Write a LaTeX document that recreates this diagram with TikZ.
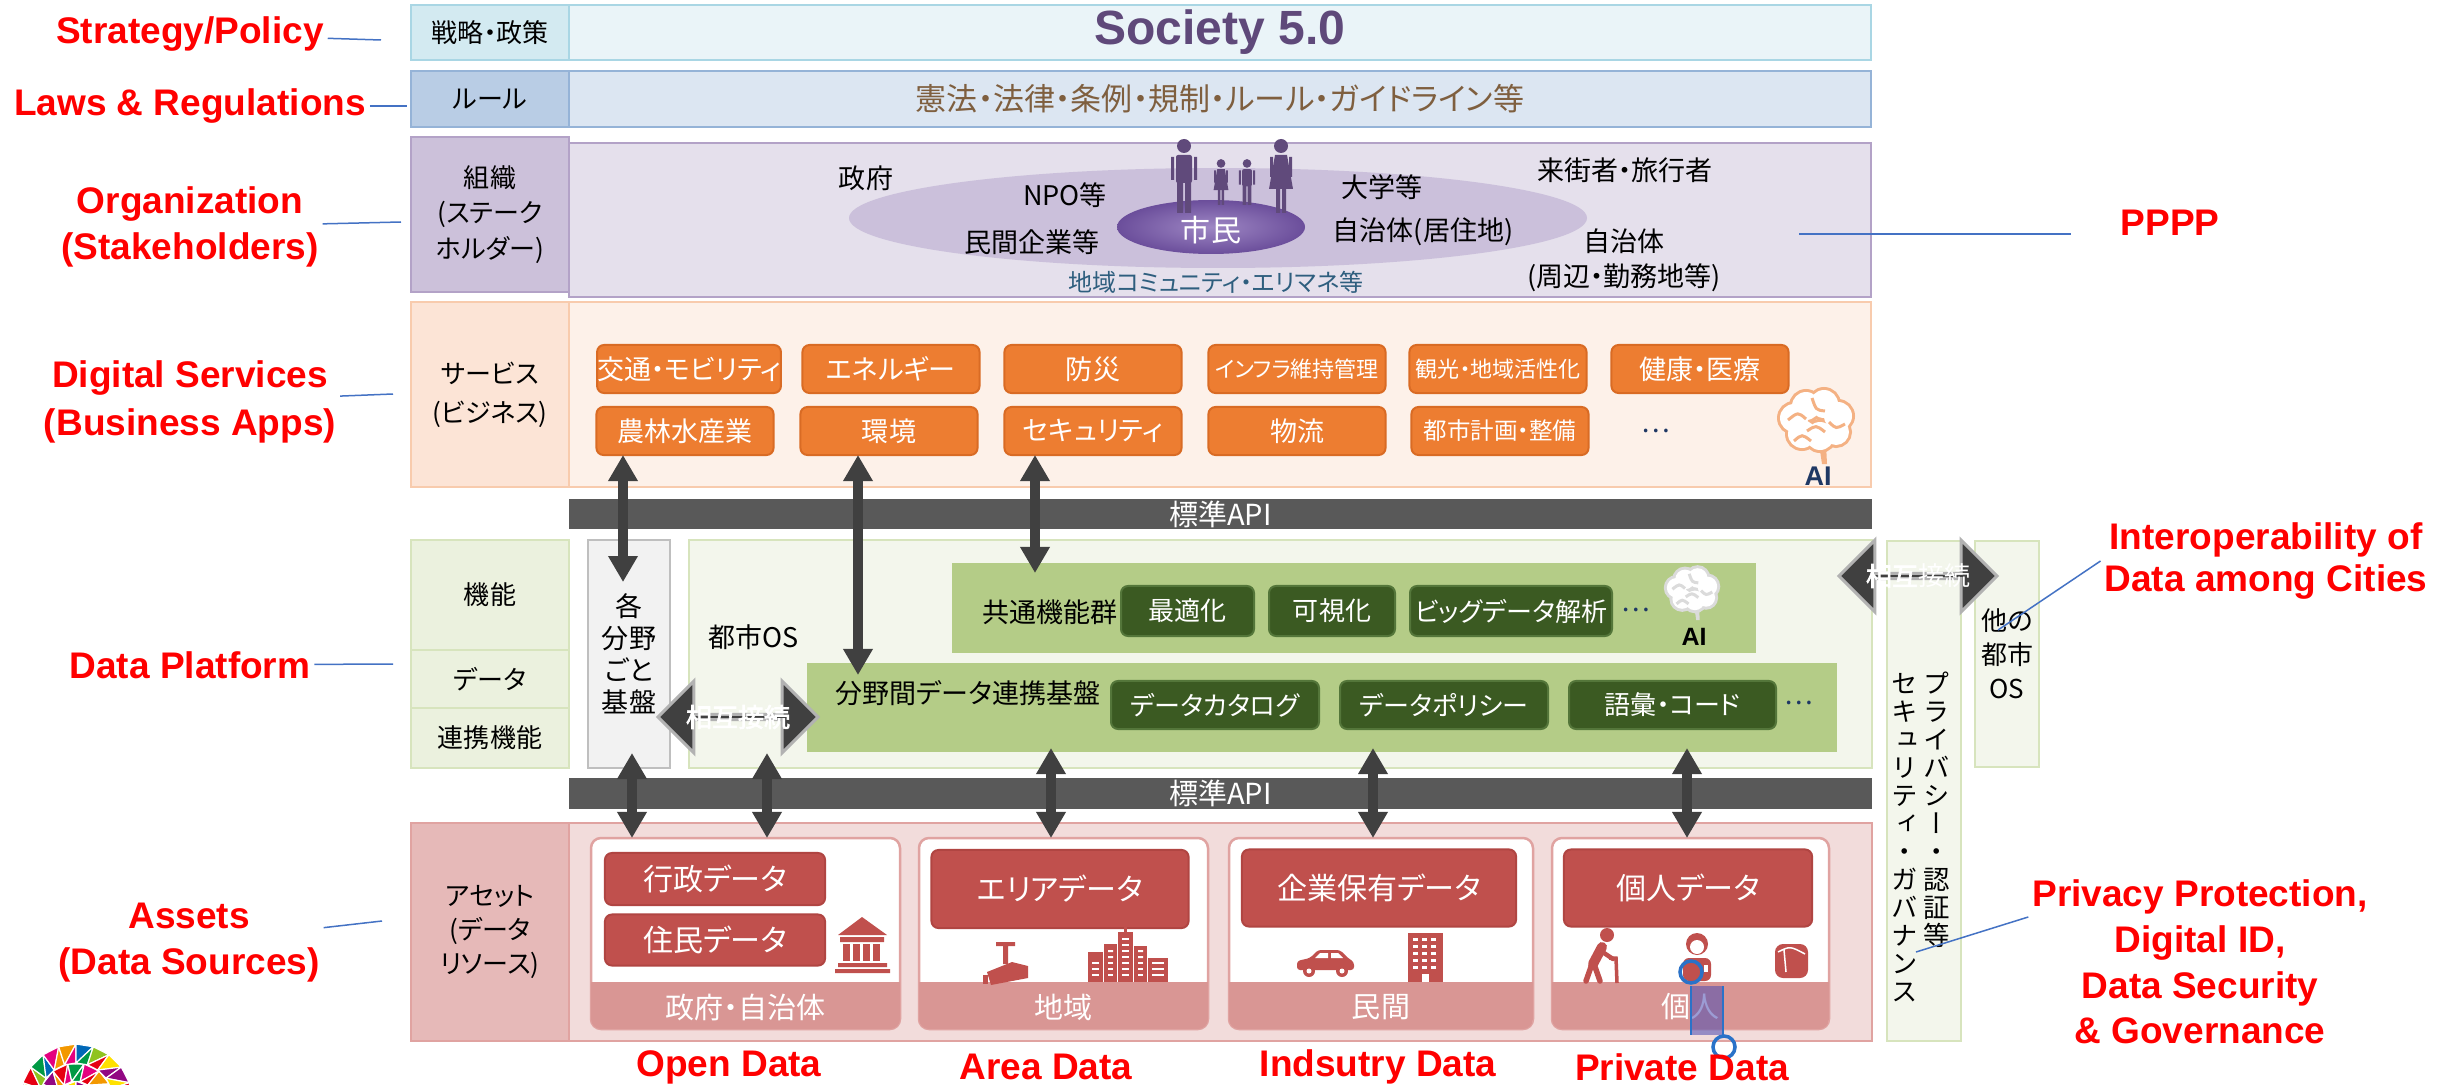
\documentclass[tikz,border=0pt]{standalone}
\usepackage{fontspec}
\setmainfont{Liberation Sans}
\newfontfamily\jp[RawFeature={+palt}]{Noto Sans CJK JP}
\newfontfamily\jpheavy[RawFeature={+palt},FakeBold=2.5]{Noto Sans CJK JP}
\newfontfamily\jpv[RawFeature={+vert}]{Noto Sans CJK JP}
\newfontfamily\logoserif{Liberation Serif}
\usetikzlibrary{arrows.meta,positioning,shapes.arrows}
\definecolor{cyanL}{HTML}{D3EAF1}\definecolor{cyanM}{HTML}{EAF4F8}\definecolor{cyanE}{HTML}{A9D6E4}
\definecolor{blueL}{HTML}{B9CDE5}\definecolor{blueM}{HTML}{DCE6F2}\definecolor{blueE}{HTML}{95B3D7}
\definecolor{purL}{HTML}{CCC1DA}\definecolor{purM}{HTML}{E5E0EC}\definecolor{purE}{HTML}{B3A2C7}
\definecolor{ellfill}{HTML}{CBC0DB}\definecolor{citizenL}{HTML}{9E87C4}\definecolor{citizenD}{HTML}{6B4E9B}
\definecolor{citizen}{HTML}{604A7B}\definecolor{societyv}{HTML}{5F497A}\definecolor{lawbrown}{HTML}{7F5F3F}
\definecolor{commteal}{HTML}{2E5E7E}
\definecolor{pchL}{HTML}{FCE4D6}\definecolor{pchM}{HTML}{FDF1E9}\definecolor{pchE}{HTML}{F8CBAD}
\definecolor{svcorange}{HTML}{ED7D31}\definecolor{svcedge}{HTML}{D96B24}
\definecolor{dotnavy}{HTML}{1F3864}\definecolor{brainorange}{HTML}{F4B183}
\definecolor{apigray}{HTML}{595959}\definecolor{arrowgray}{HTML}{404040}
\definecolor{grnL}{HTML}{EBF1DE}\definecolor{grnM}{HTML}{F3F6EC}\definecolor{grnE}{HTML}{D7E4BD}\definecolor{grnK}{HTML}{B4CC87}
\definecolor{fngreen}{HTML}{3B5A22}\definecolor{fnedge}{HTML}{54763A}
\definecolor{grayL}{HTML}{F2F2F2}\definecolor{grayE}{HTML}{BFBFBF}
\definecolor{pinkL}{HTML}{E6B9B8}\definecolor{pinkM}{HTML}{F2DCDB}\definecolor{pinkE}{HTML}{E0A3A1}
\definecolor{bandpink}{HTML}{D99694}\definecolor{datared}{HTML}{C0504D}\definecolor{dataedge}{HTML}{B04542}
\definecolor{leadblue}{HTML}{4472C4}\definecolor{selblue}{HTML}{2A72C8}\definecolor{logogray}{HTML}{404040}
\definecolor{dome0}{HTML}{E60012}\definecolor{dome1}{HTML}{F39800}\definecolor{dome2}{HTML}{FFE100}\definecolor{dome3}{HTML}{009944}
\definecolor{dome4}{HTML}{0068B7}\definecolor{dome5}{HTML}{920783}\definecolor{dome6}{HTML}{E4007F}\definecolor{dome7}{HTML}{8FC31F}

\newdimen\pxd
\newcommand\pxfontl[2]{\pxd=0.28453pt\pxd=#2\pxd\fontsize{\pxd}{#1\pxd}\selectfont}
\newcommand\pxfont[1]{\pxfontl{1.2}{#1}}
\newcommand\cellbox[7][]{\node[box,#1,minimum width={(#5-#3)*0.01cm},minimum height={(#6-#4)*0.01cm}] (#2) at ({(#3+#5)/2},{(#4+#6)/2}) {#7};}

\tikzset{
 pics/brain/.style={code={
  \foreach \bx/\by/\br in {-22/-6/14,-10/-18/14,8/-20/14,22/-8/14,20/8/13,4/12/14,-14/10/14} \draw[#1,line width=0.06cm] (\bx,\by) circle[radius=\br];
  \fill[#1] (3,20) -- (10,20) -- (11,40) -- (6,40) -- cycle;
  \foreach \bx/\by/\br in {-22/-6/14,-10/-18/14,8/-20/14,22/-8/14,20/8/13,4/12/14,-14/10/14} \fill[white] (\bx,\by) circle[radius=\br];
  \draw[#1,line width=0.03cm] (-28,-4) .. controls (-18,-12) .. (-10,-5) (-4,-26) .. controls (0,-14) .. (9,-13) (13,-2) .. controls (20,5) .. (29,0) (-9,7) .. controls (0,1) .. (9,8) (-22,17) .. controls (-14,10) .. (-5,17);}},
 pics/man/.style={code={\fill[citizen] (0,-67) circle[radius=7]; \fill[citizen,rounded corners=0.02cm] (-8,-58) rectangle (8,-30); \fill[citizen] (-13,-56) rectangle (-10,-33) (10,-56) rectangle (13,-33) (-7,-31) rectangle (-1,0) (1,-31) rectangle (7,0);}},
 pics/woman/.style={code={\fill[citizen] (0,-67) circle[radius=7]; \fill[citizen] (-6,-58) -- (6,-58) -- (12,-24) -- (-12,-24) -- cycle; \fill[citizen] (-11,-56) rectangle (-8,-36) (8,-56) rectangle (11,-36) (-5,-25) rectangle (-1,0) (1,-25) rectangle (5,0);}}}

\begin{document}
\begin{tikzpicture}[x=0.01cm,y=-0.01cm,font=\jp\pxfont{26},every node/.style={outer sep=0},
 box/.style={draw,line width=0.025cm,inner sep=0,align=center},
 svcbox/.style={rounded corners=0.07cm,fill=svcorange,draw=svcedge,line width=0.02cm,text=white,minimum width=1.77cm,minimum height=0.48cm,inner sep=0,font=\jp\pxfont{27}},
 fnbox/.style={rounded corners=0.07cm,fill=fngreen,draw=fnedge,line width=0.02cm,text=white,minimum height=0.5cm,inner sep=0,font=\jp\pxfont{26}},
 databox/.style={rounded corners=0.07cm,fill=datared,draw=dataedge,line width=0.02cm,text=white,inner sep=0,font=\jp\pxfont{30}},
 panel/.style={rounded corners=0.1cm,fill=white,draw=pinkE},
 tag/.style={text=red,font=\bfseries\pxfont{37},align=center,inner sep=0.04cm},
 lead/.style={draw=leadblue,line width=0.015cm},
 updown/.style={{Triangle[width=0.28cm,length=0.26cm]}-{Triangle[width=0.28cm,length=0.26cm]},line width=0.1cm,draw=arrowgray},
 link/.style={double arrow,fill=arrowgray,draw=gray!60,line width=0.03cm,minimum width=0.72cm,double arrow head extend=0.19cm,inner sep=0},
 linktext/.style={text=white,font=\jpheavy\pxfont{26}},
 dots/.style={text=dotnavy,font=\jp\pxfont{27}}]
 \useasboundingbox (0,0) rectangle (2445,1085);
 \fill[white] (0,0) rectangle (2445,1085);

 \cellbox[fill=cyanL,draw=cyanE]{stratL}{411}{5}{569}{60}{戦略・政策}
 \cellbox[fill=cyanM,draw=cyanE,text=societyv,font=\bfseries\pxfont{48}]{strat}{569}{5}{1871}{60}{Society 5.0}
 \cellbox[fill=blueL,draw=blueE]{ruleL}{411}{71}{569}{127}{ルール}
 \cellbox[fill=blueM,draw=blueE,text=lawbrown,font=\jp\pxfont{31}]{rule}{569}{71}{1871}{127}{憲法・法律・条例・規制・ルール・ガイドライン等}
 \cellbox[fill=purL,draw=purE,font=\jp\pxfontl{1.35}{26}]{orgL}{411}{137}{569}{292}{組織\\(ステーク\\ホルダー)}
 \cellbox[fill=purM,draw=purE]{org}{569}{143}{1871}{297}{}

 \fill[ellfill] (1218,218) ellipse[x radius=369,y radius=50];
 \shade[inner color=citizenL,outer color=citizenD] (1211,227) ellipse[x radius=94,y radius=27];
 \pic at (1184,213) {man}; \pic at (1281,213) {woman};
 \pic[scale=0.62] at (1221,205) {woman}; \pic[scale=0.62] at (1247,205) {man};
 \node[text=white,font=\jp\pxfont{30}] (shimin) at (1211,230) {市民};
 \begin{scope}[font=\jp\pxfont{27}]
  \node (gov) at (866,178) {政府};
  \node (npo) at (1065,195) {NPO等};
  \node (corp) at (1032,242) {民間企業等};
  \node (univ) at (1382,187) {大学等};
  \node (home) at (1423,232) {自治体(居住地)};
  \node (visit) at (1625,170) {来街者・旅行者};
  \node[align=center,font=\jp\pxfontl{1.3}{27}] (near) at (1624,260) {自治体\\(周辺・勤務地等)};
 \end{scope}
 \node[text=commteal,font=\jp\pxfont{24}] (comm) at (1216,282) {地域コミュニティ・エリマネ等};

 \cellbox[fill=pchL,draw=pchE,font=\jp\pxfontl{1.5}{26}]{svcL}{411}{302}{569}{487}{サービス\\(ビジネス)}
 \cellbox[fill=pchM,draw=pchE]{svc}{569}{302}{1871}{487}{}
 \foreach \na/\xa/\ya/\tx in {traffic/689/369/交通・モビリティ, energy/891/369/エネルギー, disaster/1093/369/防災, infra/1297/369/{\pxfont{22}インフラ維持管理}, tourism/1498/369/{\pxfont{22}観光・地域活性化}, health/1700/369/健康・医療, agri/685/431/農林水産業, env/889/431/環境, security/1093/431/セキュリティ, logistics/1297/431/物流, urban/1500/431/{\pxfont{23.5}都市計画・整備}}
  \node[svcbox] (\na) at (\xa,\ya) {\tx};
 \node[dots] (svcmore) at (1656,431) {…};
 \pic at (1816,424) {brain=brainorange};
 \node[text=dotnavy,font=\bfseries\pxfont{27}] (aiS) at (1818,476) {AI};

 \cellbox[fill=apigray,draw=none,text=white,font=\jp\pxfont{29}]{apiU}{569}{499}{1872}{529}{標準API}
 \cellbox[fill=grnL,draw=grnE]{kino}{411}{540}{569}{650}{機能}
 \cellbox[fill=grnL,draw=grnE]{datac}{411}{650}{569}{708}{データ}
 \cellbox[fill=grnL,draw=grnE]{renkei}{411}{708}{569}{768}{連携機能}
 \cellbox[fill=grayL,draw=grayE,font=\jp\pxfontl{1.19}{27}]{kaku}{588}{540}{670}{768}{各\\分野\\ごと\\基盤}
 \cellbox[fill=grnM,draw=grnE]{cityos}{689}{540}{1872}{768}{}
 \node[font=\jp\pxfont{27}] (cityosT) at (754,637) {都市OS};
 \cellbox[fill=grnK,draw=none]{common}{952}{563}{1756}{653}{}
 \node[anchor=west,font=\jp\pxfont{27}] (commonT) at (971,612) {共通機能群};
 \foreach \na/\xa/\xb/\tx in {opt/1121/1254/最適化, vis/1269/1395/可視化, bigdata/1410/1612/ビッグデータ解析}
  \node[fnbox,minimum width={(\xb-\xa)*0.01cm}] (\na) at ({(\xa+\xb)/2},611) {\tx};
 \node[dots] (fnmore) at (1636,610) {…};
 \pic[scale=0.7] at (1692,592) {brain=white!72!gray};
 \node[font=\bfseries\pxfont{25}] (aiP) at (1694,637) {AI};
 \cellbox[fill=grnK,draw=none]{crossdata}{807}{663}{1837}{752}{}
 \node[anchor=west,font=\jp\pxfont{27}] (crossT) at (824,693) {分野間データ連携基盤};
 \foreach \na/\xa/\xb/\tx in {catalog/1111/1319/データカタログ, policy/1340/1548/データポリシー, vocab/1569/1776/語彙・コード}
  \node[fnbox,minimum width={(\xb-\xa)*0.01cm},minimum height=0.48cm] (\na) at ({(\xa+\xb)/2},705) {\tx};
 \node[dots] (datamore) at (1799,703) {…};

 \cellbox[fill=grnM,draw=grnE]{privacy}{1887}{541}{1961}{1041}{}
 \node[anchor=north,align=center,font=\jpv\pxfontl{1.06}{26.4}] (privR) at (1937,660) {プ\\ラ\\イ\\バ\\シ\\ー\\・\\認\\証\\等};
 \node[anchor=north,align=center,font=\jpv\pxfontl{1.06}{26.4}] (privL) at (1905,662) {セ\\キ\\ュ\\リ\\テ\\ィ\\・\\ガ\\バ\\ナ\\ン\\ス};
 \cellbox[fill=grnM,draw=grnE,font=\jp\pxfontl{1.3}{26}]{otheros}{1975}{541}{2039}{767}{他の\\都市\\OS}
 \node[link,minimum height=1.58cm] (linkR) at (1918,576) {};
 \node[linktext] (linkRt) at (linkR) {相互{\jp 接続}};
 \node[link,minimum height=1.6cm] (linkL) at (738,717) {};
 \node[linktext] (linkLt) at (linkL) {相互接続};

 \cellbox[fill=apigray,draw=none,text=white,font=\jp\pxfont{29}]{apiD}{569}{778}{1872}{809}{標準API}
 \cellbox[fill=pinkL,draw=pinkE,font=\jp\pxfontl{1.3}{26}]{assetL}{411}{823}{569}{1041}{アセット\\(データ\\リソース)}
 \cellbox[fill=pinkM,draw=pinkE]{asset}{569}{823}{1872}{1041}{}
 \foreach \na/\xa/\xb/\tx in {pgov/591/900/政府・自治体, parea/919/1208/地域, pcorp/1229/1533/民間, pself/1552/1829/個人}{
  \cellbox[panel]{\na}{\xa}{838}{\xb}{1029}{}
  \begin{scope}\clip[rounded corners=0.1cm] (\xa,838) rectangle (\xb,1029); \fill[bandpink] (\xa,982) rectangle (\xb,1029);\end{scope}
  \node[text=white,font=\jp\pxfont{29}] (\na band) at ({(\xa+\xb)/2},1007) {\tx};}
 \node[databox,minimum width=2.2cm,minimum height=0.52cm] (gyosei) at (715,879) {行政データ};
 \node[databox,minimum width=2.2cm,minimum height=0.51cm] (jumin) at (715,940) {住民データ};
 \node[databox,minimum width=2.57cm,minimum height=0.78cm] (areadata) at (1060,889) {エリアデータ};
 \node[databox,minimum width=2.74cm,minimum height=0.77cm] (corpdata) at (1379,888) {企業保有データ};
 \node[databox,minimum width=2.48cm,minimum height=0.77cm] (selfdata) at (1688,888) {個人データ};

 \fill[datared] (838,935) -- (862,917) -- (887,935) -- cycle;
 \fill[datared] (840,937) rectangle (884,942) (838,963) rectangle (887,967) (835,969) rectangle (890,973);
 \foreach \cx in {843,853,863,873} \fill[datared] (\cx,944) rectangle (\cx+7,961);
 \fill[datared] (996,942) rectangle (1015,946) (1003,946) rectangle (1008,964);
 \fill[datared] (987,972) -- (1012,962) -- (1028,966) -- (1028,978) -- (991,985) -- cycle;
 \fill[datared] (983,975) rectangle (988,984);
 \foreach \xa/\xb/\ya in {1088/1103/952,1104/1117/944,1118/1133/932,1134/1147/946,1148/1168/958} \fill[datared] (\xa,\ya) rectangle (\xb,982);
 \fill[datared] (1124,925) rectangle (1127,932);
 \foreach \ya in {962,968,974} \foreach \xa/\xb in {1090/1101,1106/1115,1120/1131,1136/1145,1150/1166} \fill[white] (\xa+2,\ya) rectangle (\xb-2,\ya+2);
 \foreach \ya in {938,944,950,956} \fill[white] (1122,\ya) rectangle (1129,\ya+2);
 \foreach \ya in {950,956} \fill[white] (1108,\ya) rectangle (1113,\ya+2) (1138,\ya) rectangle (1143,\ya+2);
 \fill[datared,rounded corners=0.03cm] (1297,970) -- (1297,961) -- (1310,958) -- (1318,950) -- (1340,950) -- (1348,958) -- (1354,962) -- (1354,970) -- cycle;
 \fill[white] (1315,958) -- (1320,953) -- (1328,953) -- (1328,958) -- cycle (1331,958) -- (1331,953) -- (1338,953) -- (1343,958) -- cycle;
 \foreach \wx in {1309,1342} {\fill[datared] (\wx,971) circle[radius=6]; \fill[white] (\wx,971) circle[radius=2.5];}
 \fill[datared] (1408,933) rectangle (1443,982);
 \foreach \i in {0,1,2} \foreach \j in {0,...,4} \fill[white] (1413+\i*9,938+\j*7) rectangle (1418+\i*9,941+\j*7);
 \fill[white] (1422,974) rectangle (1429,982);
 \fill[datared] (1607,935) circle[radius=7];
 \draw[datared,line width=0.1cm,line cap=round] (1602,947) -- (1593,964);
 \draw[datared,line width=0.055cm,line cap=round] (1592,964) -- (1586,981) (1594,964) -- (1600,981);
 \draw[datared,line width=0.045cm,line cap=round] (1601,951) -- (1613,959);
 \draw[datared,line width=0.035cm] (1609,958) -- (1616,958) -- (1617,983);
 \fill[datared] (1697,944) circle[radius=11];
 \fill[white] (1697,947) circle[radius=7];
 \fill[datared,rounded corners=0.06cm] (1683,981) rectangle (1711,958);
 \fill[white] (1704,965) rectangle (1708,972);
 \fill[datared,rounded corners=0.08cm] (1775,944) rectangle (1808,978);
 \draw[white,line width=0.015cm] (1778,952) .. controls (1790,946) .. (1805,954) (1784,950) -- (1786,972);

 \coordinate (a1) at (623,0); \coordinate (a2) at (858,0); \coordinate (a3) at (1035,0);
 \coordinate (b1) at (632,0); \coordinate (b2) at (767,0); \coordinate (b3) at (1051,0); \coordinate (b4) at (1373,0); \coordinate (b5) at (1687,0);
 \draw[updown,shorten >=-0.42cm] (a1 |- agri.south) -- (a1 |- kaku.north);
 \draw[updown,shorten >=-0.12cm] (a2 |- env.south) -- (a2 |- crossdata.north);
 \draw[updown,shorten >=-0.1cm] (a3 |- security.south) -- (a3 |- common.north);
 \draw[updown,shorten <=-0.15cm] (b1 |- kaku.south) -- (b1 |- pgov.north);
 \draw[updown,shorten <=-0.15cm] (b2 |- cityos.south) -- (b2 |- pgov.north);
 \draw[updown,shorten <=-0.04cm] (b3 |- crossdata.south) -- (b3 |- parea.north);
 \draw[updown,shorten <=-0.04cm] (b4 |- crossdata.south) -- (b4 |- pcorp.north);
 \draw[updown,shorten <=-0.04cm] (b5 |- crossdata.south) -- (b5 |- pself.north);

 \fill[blue!40!gray,opacity=0.55] (1691,986) rectangle (1723,1035);
 \draw[selblue,line width=0.012cm] (1691,986) -- (1691,1035) (1723,986) -- (1723,1035);
 \draw[selblue,line width=0.035cm] (1691,972) circle[radius=11] (1724,1047) circle[radius=11];

 \node[tag] (lblStrat) at (190,34) {Strategy/Policy};
 \node[tag] (lblLaw) at (190,106) {Laws \& Regulations};
 \node[tag,font=\bfseries\pxfontl{1.24}{37}] (lblOrg) at (190,227) {Organization\\(Stakeholders)};
 \node[tag] (lblPPPP) at (2170,223) {PPPP};
 \node[tag,font=\bfseries\pxfontl{1.3}{37}] (lblSvc) at (190,402) {Digital Services\\(Business Apps)};
 \node[tag] (lblDP) at (190,665) {Data Platform};
 \node[tag,font=\bfseries\pxfontl{1.16}{37}] (lblIO) at (2266,561) {Interoperability of\\Data among Cities};
 \node[tag,font=\bfseries\pxfontl{1.24}{37}] (lblAsset) at (189,943) {Assets\\(Data Sources)};
 \node[tag,font=\bfseries\pxfontl{1.23}{37}] (lblPriv) at (2200,962) {Privacy Protection,\\Digital ID,\\Data Security\\\& Governance};
 \foreach \na/\xa/\tx in {lblOpen/729/Open Data, lblArea/1046/Area Data, lblInd/1378/Indsutry Data, lblPrivate/1682/Private Data}
  \node[tag] (\na) at (\xa,1067) {\tx};

 \coordinate (eStrat) at (381,40); \coordinate (eLaw) at (407,106); \coordinate (eOrg) at (401,222);
 \coordinate (ePPPP) at (1799,234); \coordinate (eSvc) at (393,394); \coordinate (eDP) at (393,664);
 \coordinate (eIO) at (1998,630); \coordinate (eAsset) at (382,921); \coordinate (ePriv) at (1916,952);
 \draw[lead] (lblStrat) -- (eStrat); \draw[lead] (lblLaw) -- (eLaw); \draw[lead] (lblOrg) -- (eOrg);
 \draw[lead,shorten >=0.46cm] (ePPPP) -- (ePPPP -| lblPPPP.west);
 \draw[lead] (lblSvc) -- (eSvc); \draw[lead] (lblDP) -- (eDP); \draw[lead] (lblAsset) -- (eAsset);
 \draw[lead] (lblIO.west) -- (eIO); \draw[lead] ([yshift=0.45cm]lblPriv.west) -- (ePriv);

 \begin{scope}[shift={(76,1100)}]
  \foreach \ri/\ro/\nn in {0/19/4,19/37/7,37/56/10}{
   \foreach \k in {1,...,\nn}{
    \pgfmathsetmacro\aa{180+180*(\k-1)/\nn}
    \pgfmathsetmacro\ab{180+180*\k/\nn}
    \pgfmathtruncatemacro\ca{mod(3*\k+\nn,8)}
    \pgfmathtruncatemacro\cb{mod(5*\k+2*\nn+1,8)}
    \fill[fill=dome\ca,draw=white,line width=0.012cm] (\aa:\ri) -- (\aa:\ro) -- (\ab:\ro) -- cycle;
    \fill[fill=dome\cb,draw=white,line width=0.012cm] (\aa:\ri) -- (\ab:\ri) -- (\ab:\ro) -- cycle;}}
 \end{scope}
 \node[anchor=north west,font=\logoserif\bfseries\pxfont{33},text=logogray] (logoT) at (150,1076) {Smart City};
\end{tikzpicture}
\end{document}
